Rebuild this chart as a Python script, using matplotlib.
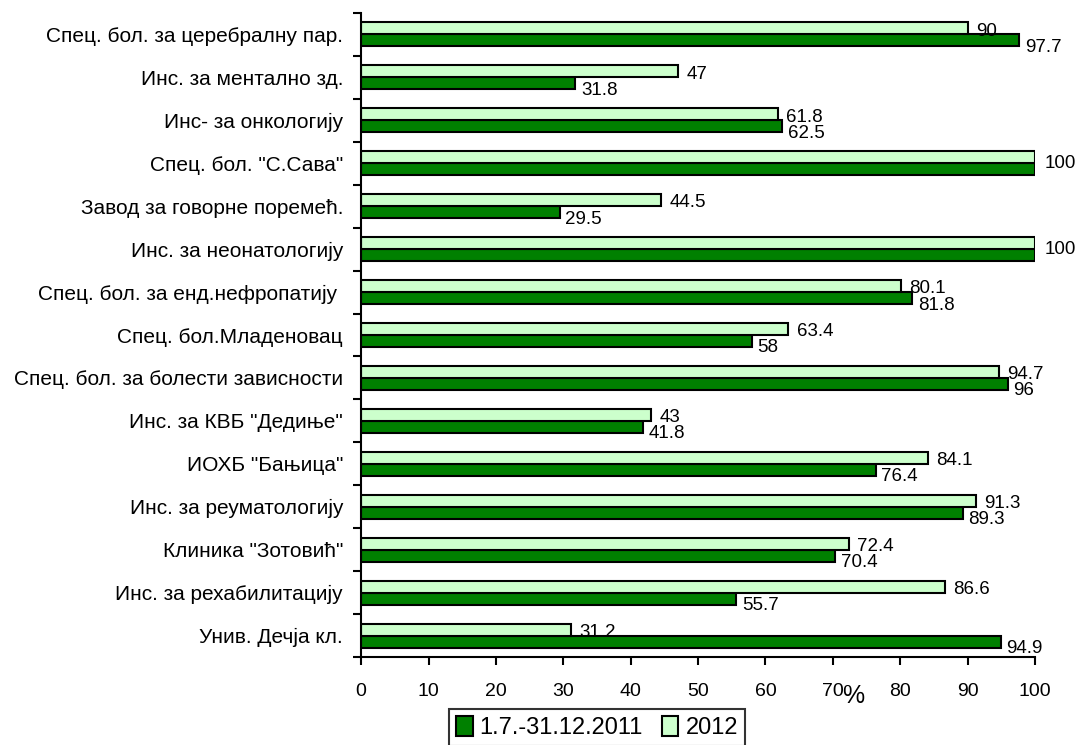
import numpy as np
import matplotlib
matplotlib.use('Agg')
import matplotlib.pyplot as plt
from matplotlib.ticker import FixedLocator, MultipleLocator

plt.rcParams['font.family'] = ['Liberation Sans', 'DejaVu Sans']

categories = [
    'Спец. бол. за церебралну пар.',
    'Инс. за ментално зд.',
    'Инс- за онкологију',
    'Спец. бол. "С.Сава"',
    'Завод за говорне поремећ.',
    'Инс. за неонатологију',
    'Спец. бол. за енд.нефропатију ',
    'Спец. бол.Младеновац',
    'Спец. бол. за болести зависности',
    'Инс. за КВБ "Дедиње"',
    'ИОХБ "Бањица"',
    'Инс. за реуматологију',
    'Клиника "Зотовић"',
    'Инс. за рехабилитацију',
    'Унив. Дечја кл.',
]
vals_2011 = [97.7, 31.8, 62.5, 100, 29.5, 100, 81.8, 58, 96, 41.8, 76.4, 89.3, 70.4, 55.7, 94.9]
vals_2012 = [90, 47, 61.8, 100, 44.5, 100, 80.1, 63.4, 94.7, 43, 84.1, 91.3, 72.4, 86.6, 31.2]
label_2011 = '1.7.-31.12.2011'
label_2012 = '2012'

fig = plt.figure(figsize=(10.78, 7.45), dpi=100)
ax = fig.add_axes([0.335, 0.118, 0.625, 0.8646])

y = np.arange(len(categories))
h = 0.28
b11 = ax.barh(y + h / 2, vals_2011, height=h, color='#008000', edgecolor='black',
              linewidth=1.5, label=label_2011)
b12 = ax.barh(y - h / 2, vals_2012, height=h, color='#CCFFCC', edgecolor='black',
              linewidth=1.5, label=label_2012)

# value labels; where both values are equal one label sits at the group centre
for yi, v12, v11 in zip(y, vals_2012, vals_2011):
    if v12 == v11:
        ax.annotate(f'{v12:g}', (v12, yi), xytext=(7, 0), textcoords='offset points',
                    ha='left', va='center', fontsize=13.5)
        continue
    ax.annotate(f'{v12:g}', (v12, yi - h / 2), xytext=(6, -2), textcoords='offset points',
                ha='left', va='center', fontsize=13.5)
    ax.annotate(f'{v11:g}', (v11, yi + h / 2), xytext=(4, -5), textcoords='offset points',
                ha='left', va='center', fontsize=13.5)

ax.set_xlim(0, 100)
ax.set_ylim(len(categories) - 0.5, -0.5)
ax.xaxis.set_major_locator(MultipleLocator(10))
ax.set_yticks(y)
ax.set_yticklabels(categories, fontsize=15)
ax.yaxis.set_minor_locator(FixedLocator(np.arange(-0.5, len(categories), 1)))
ax.tick_params(axis='y', which='major', length=0, pad=13)
ax.tick_params(axis='y', which='minor', length=6, width=1.5, direction='out')
ax.tick_params(axis='x', which='major', length=6, width=1.5, direction='out',
               labelsize=14, pad=13)
for s in ['top', 'right']:
    ax.spines[s].set_visible(False)
for s in ['left', 'bottom']:
    ax.spines[s].set_linewidth(1.5)

fig.text(0.791, 0.066, '%', fontsize=18, ha='center', va='center')

leg = fig.legend(handles=[b11, b12], labels=[label_2011, label_2012],
                 loc='upper left', bbox_to_anchor=(0.4165, 0.0483), ncol=2,
                 fontsize=17, frameon=True, fancybox=False, edgecolor='black',
                 handlelength=0.7, handleheight=0.9, handletextpad=0.3,
                 columnspacing=0.8, borderpad=0.3, borderaxespad=0)
leg.get_frame().set_linewidth(1.5)

fig.savefig('out.png', dpi=100)
